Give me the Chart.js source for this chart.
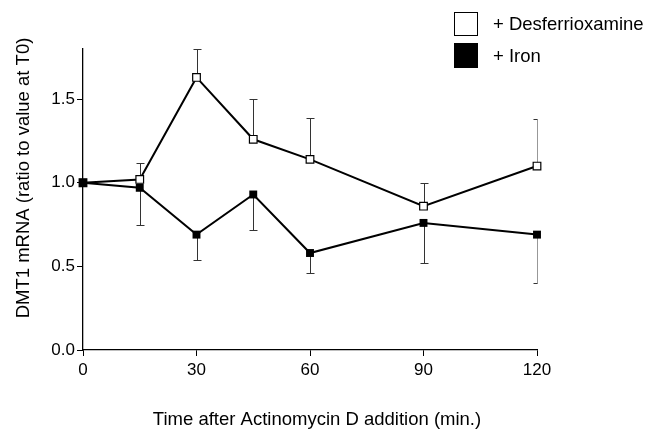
<!DOCTYPE html>
<html>
<head>
<meta charset="utf-8">
<script src="https://cdn.jsdelivr.net/npm/chart.js@4.4.0/dist/chart.umd.min.js"></script>
<style>
  html, body { margin: 0; padding: 0; background: #fff; }
</style>
</head>
<body>
<canvas id="chart" width="658" height="431"></canvas>
<script>
'use strict';
// values
const times = [0, 15, 30, 45, 60, 90, 120];
const desferrioxamine = [1.0, 1.02, 1.63, 1.26, 1.14, 0.86, 1.10];
const desferrioxamineErrUp = [0, 0.10, 0.17, 0.24, 0.25, 0.14, 0.28];
const iron = [1.0, 0.97, 0.69, 0.93, 0.58, 0.76, 0.69];
const ironErrDown = [0, 0.22, 0.15, 0.21, 0.12, 0.24, 0.29];
const xTicks = [0, 30, 60, 90, 120];
const yTicks = [0, 0.5, 1.0, 1.5];
const seriesNames = ['+ Desferrioxamine', '+ Iron'];
const xTitle = 'Time after Actinomycin D addition (min.)';
const yTitle = 'DMT1 mRNA (ratio to value at T0)';

const FONT = '"Liberation Sans", Arial, Helvetica, sans-serif';
Chart.defaults.font.family = FONT;
Chart.defaults.font.size = 17;
Chart.defaults.color = '#000';

const toPoints = vals => vals.map((v, i) => ({ x: times[i], y: v }));

// error bars: one-sided, up for desferrioxamine, down for iron
const errorBars = {
  id: 'errorBars',
  beforeDatasetsDraw(chart) {
    const { ctx, chartArea, scales: { x, y } } = chart;
    ctx.save();
    ctx.beginPath();
    ctx.rect(chartArea.left - 10, 0, chartArea.width + 10.5, chart.height);
    ctx.clip();
    ctx.strokeStyle = '#333';
    ctx.lineWidth = 1;
    const draw = (vals, errs, dir) => {
      vals.forEach((v, i) => {
        if (!errs[i]) return;
        const px = Math.round(x.getPixelForValue(times[i])) + 0.5;
        const y0 = y.getPixelForValue(v);
        const y1 = Math.round(y.getPixelForValue(v + dir * errs[i])) + 0.5;
        ctx.beginPath();
        ctx.moveTo(px, y0);
        ctx.lineTo(px, y1);
        ctx.moveTo(px - 4, y1);
        ctx.lineTo(px + 4, y1);
        ctx.stroke();
      });
    };
    draw(desferrioxamine, desferrioxamineErrUp, 1);
    draw(iron, ironErrDown, -1);
    ctx.restore();
  }
};

// legend boxes top right + axis titles
const decorations = {
  id: 'decorations',
  afterDraw(chart) {
    const { ctx } = chart;
    ctx.save();
    ctx.font = '18.5px ' + FONT;
    ctx.textBaseline = 'middle';
    ctx.textAlign = 'left';
    ctx.lineWidth = 1;
    ctx.strokeStyle = '#000';
    ctx.fillStyle = '#fff';
    ctx.fillRect(454.5, 12.5, 23, 23);
    ctx.strokeRect(454.5, 12.5, 23, 23);
    ctx.fillStyle = '#000';
    ctx.fillRect(454, 43, 24, 25);
    ctx.fillText(seriesNames[0], 493, 25);
    ctx.fillText(seriesNames[1], 493, 57);

    ctx.textAlign = 'center';
    ctx.fillText(xTitle, 317, 420);
    ctx.translate(24, 178);
    ctx.rotate(-Math.PI / 2);
    ctx.fillText(yTitle, 0, 0);
    ctx.restore();
  }
};

new Chart(document.getElementById('chart').getContext('2d'), {
  type: 'line',
  data: {
    datasets: [{
      label: seriesNames[0],
      data: toPoints(desferrioxamine),
      borderColor: '#000',
      borderWidth: 2,
      pointStyle: 'rect',
      pointRadius: 5.4,
      pointBorderWidth: 1.2,
      pointBackgroundColor: '#fff',
      pointBorderColor: '#000',
      tension: 0,
      clip: false,
      order: 2
    }, {
      label: seriesNames[1],
      data: toPoints(iron),
      borderColor: '#000',
      borderWidth: 2,
      pointStyle: 'rect',
      pointRadius: 5.6,
      pointBorderWidth: 0,
      pointBackgroundColor: '#000',
      pointBorderColor: '#000',
      tension: 0,
      clip: false,
      order: 1
    }]
  },
  options: {
    responsive: false,
    animation: false,
    layout: { padding: { top: 49, right: 121, left: 0, bottom: 0 } },
    plugins: {
      legend: { display: false },
      tooltip: { enabled: false }
    },
    scales: {
      x: {
        type: 'linear',
        min: 0,
        max: 120,
        afterBuildTicks: s => { s.ticks = xTicks.map(v => ({ value: v })); },
        afterFit: s => { s.height = 81; },
        grid: { drawOnChartArea: false, drawTicks: true, tickLength: 6, color: '#000', tickWidth: 1 },
        border: { color: '#000', width: 1.3 },
        ticks: { padding: 4, maxRotation: 0 }
      },
      y: {
        type: 'linear',
        min: 0,
        max: 1.8,
        afterBuildTicks: s => { s.ticks = yTicks.map(v => ({ value: v })); },
        afterFit: s => { s.width = 83; },
        grid: { drawOnChartArea: false, drawTicks: true, tickLength: 6, color: '#000', tickWidth: 1 },
        border: { color: '#000', width: 1.3 },
        ticks: { padding: 2, callback: v => v.toFixed(1) }
      }
    }
  },
  plugins: [errorBars, decorations]
});
</script>
</body>
</html>
